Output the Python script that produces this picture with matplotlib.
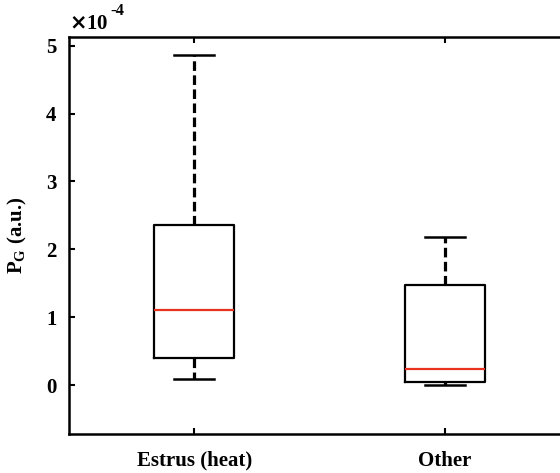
"""
Box plot of P_G for estrus vs other
"""
import numpy as np
import matplotlib
matplotlib.use("Agg")
import matplotlib.pyplot as plt

plt.rcParams['font.family'] = ['Liberation Serif', 'DejaVu Serif']
plt.rcParams['font.weight'] = 'bold'

# values in units of 1e-4
groups = ["Estrus (heat)", "Other"]
whislo = [0.09, 0.00]
q1 = [0.40, 0.04]
med = [1.11, 0.24]
q3 = [2.36, 1.47]
whishi = [4.87, 2.18]

stats = []
for i in range(len(groups)):
    stats.append({"label": groups[i], "whislo": whislo[i], "q1": q1[i],
                  "med": med[i], "q3": q3[i], "whishi": whishi[i], "fliers": []})

fig = plt.figure(figsize=(5.6, 4.73), dpi=100)
ax = fig.add_axes([0.123, 0.0825, 0.895, 0.8395])

ax.bxp(stats, positions=[1, 2], widths=0.32, showfliers=False,
       boxprops=dict(color="black", linewidth=1.6),
       whiskerprops=dict(color="black", linewidth=2.3, linestyle=(0, (3, 1.4))),
       capprops=dict(color="black", linewidth=1.8),
       medianprops=dict(color="#e8321e", linewidth=1.6),
       capwidths=0.16)

ax.set_xlim(0.5, 2.5)
ax.set_ylim(-0.72, 5.13)
ax.set_yticks([0, 1, 2, 3, 4, 5])
ax.set_yticklabels(["0", "1", "2", "3", "4", "5"])
ax.tick_params(axis="y", direction="in", length=4, width=1.5, labelsize=15,
               right=True, pad=9)
ax.tick_params(axis="x", direction="in", length=4, width=1.5, labelsize=15,
               top=True, pad=12)
for s in ax.spines.values():
    s.set_linewidth(1.8)

ax.set_ylabel(r"P$_{\mathregular{G}}$ (a.u.)", fontsize=15, fontweight="bold", labelpad=12)
ax.text(0.0, 1.008, r"$\times$10", transform=ax.transAxes,
        fontsize=15, fontweight="bold", ha="left", va="bottom")
ax.text(0.082, 1.045, "-4", transform=ax.transAxes,
        fontsize=12, fontweight="bold", ha="left", va="bottom")

fig.savefig("out.png", dpi=100)
